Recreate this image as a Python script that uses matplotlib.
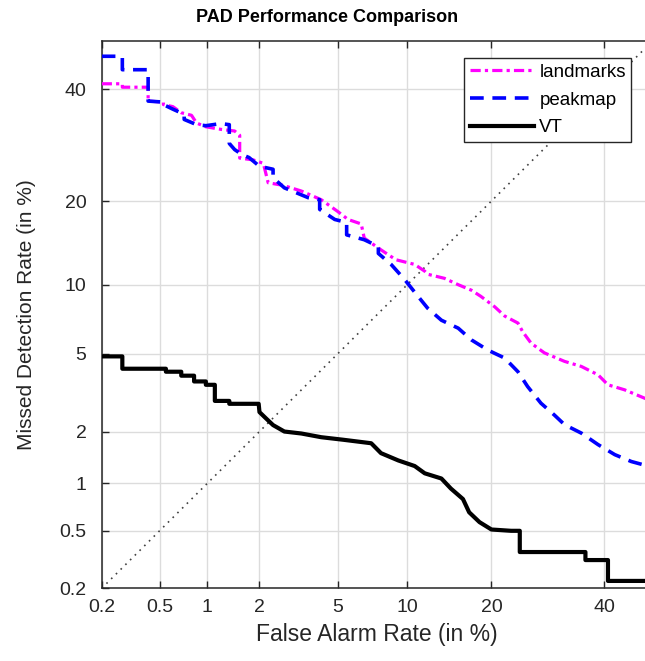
import math
import numpy as np
import matplotlib
matplotlib.use("Agg")
import matplotlib.pyplot as plt

# ---------------- data (percent) ----------------
ticks = [0.2, 0.5, 1, 2, 5, 10, 20, 40]
tick_labels = ["0.2", "0.5", "1", "2", "5", "10", "20", "40"]
lim = [0.2, 50]

# curve vertices (false alarm %, missed detection %)
land_far = [0.2, 0.28, 0.28, 0.42, 0.42, 0.53, 0.53, 0.61, 0.69, 0.80, 0.86, 0.98, 1.21, 1.45,
            1.55, 1.55, 1.84, 2.1, 2.23, 2.67, 3.33, 4.17, 5.0, 5.58, 6.4, 6.6, 7.8, 9.0, 10.7,
            11.7, 12.0, 13.85, 15.5, 17.2, 18.5, 20.5, 22.0, 24.1, 24.9, 26.3, 28.6, 32.3,
            35.5, 38.8, 40.8, 44.2, 48.3, 50]
land_miss = [41.1, 41.1, 40.4, 40.4, 37.6, 37.4, 36.9, 36.5, 35.3, 34.8, 33.3, 32.6, 32.1, 31.8,
             31.0, 26.9, 26.6, 26.0, 22.8, 22.4, 21.5, 20.2, 18.5, 17.4, 16.8, 15.0, 13.6, 12.5,
             12.0, 11.3, 11.0, 10.6, 10.0, 9.5, 8.96, 8.1, 7.4, 6.9, 6.3, 5.6, 5.05, 4.6, 4.35,
             3.96, 3.53, 3.33, 3.02, 2.9]

peak_far = [0.2, 0.28, 0.28, 0.42, 0.42, 0.53, 0.53, 0.61, 0.72, 0.72, 0.86, 0.98, 1.2, 1.35,
            1.35, 1.45, 1.6, 1.75, 2.0, 2.37, 2.37, 2.72, 3.6, 4.1, 4.1, 4.84, 5.5, 5.5, 6.6,
            7.6, 7.6, 8.6, 9.75, 10.9, 12.0, 13.5, 15.5, 17.2, 19.5, 22.0, 24.1, 25.7, 28.0,
            30.4, 32.3, 35.5, 38.8, 42.2, 45.6, 49.5, 50]
peak_miss = [46.8, 46.8, 44.0, 44.0, 37.6, 37.4, 36.9, 36.0, 35.0, 34.0, 33.0, 32.8, 33.2, 33.0,
             29.5, 28.4, 27.5, 27.0, 25.5, 25.0, 23.6, 22.0, 20.5, 20.2, 18.8, 17.4, 17.0,
             15.4, 14.8, 14.0, 13.2, 12.0, 10.5, 9.1, 8.0, 7.1, 6.55, 5.8, 5.2, 4.77, 4.1, 3.46,
             2.84, 2.46, 2.18, 1.96, 1.69, 1.48, 1.35, 1.26, 1.26]

vt_far = [0.2, 0.28, 0.28, 0.55, 0.55, 0.69, 0.69, 0.83, 0.83, 0.98, 0.98, 1.11, 1.11, 1.35,
          1.35, 1.98, 2.0, 2.18, 2.37, 2.72, 3.33, 4.17, 5.3, 7.08, 7.8, 9.2, 10.7, 11.7, 13.5,
          14.6, 16.1, 16.9, 18.3, 20.0, 23.0, 24.4, 24.4, 36.3, 36.3, 40.8, 40.8, 50]
vt_miss = [4.86, 4.86, 4.24, 4.24, 4.1, 4.1, 3.92, 3.92, 3.67, 3.67, 3.53, 3.53, 2.92, 2.92,
           2.82, 2.82, 2.55, 2.35, 2.17, 2.0, 1.95, 1.86, 1.8, 1.72, 1.51, 1.37, 1.27, 1.15,
           1.07, 0.93, 0.8, 0.66, 0.57, 0.51, 0.5, 0.5, 0.36, 0.36, 0.317, 0.317, 0.226, 0.226]

diag = [0.2, 50]

# ---------------- probit (normal deviate) scale ----------------
_a = [-3.969683028665376e+01, 2.209460984245205e+02, -2.759285104469687e+02,
      1.383577518672690e+02, -3.066479806614716e+01, 2.506628277459239e+00]
_b = [-5.447609879822406e+01, 1.615858368580409e+02, -1.556989798598866e+02,
      6.680131188771972e+01, -1.328068155288572e+01]
_c = [-7.784894002430293e-03, -3.223964580411365e-01, -2.400758277161838e+00,
      -2.549671010229583e+00, 4.374664141464968e+00, 2.938163982698783e+00]
_d = [7.784695709041462e-03, 3.224671290700398e-01, 2.445134137142996e+00,
      3.754408661907416e+00]


def _ppf(p):
    p = np.clip(np.asarray(p, dtype=float), 1e-12, 1 - 1e-12)
    out = np.empty_like(p)
    plow, phigh = 0.02425, 1 - 0.02425
    lo = p < plow
    hi = p > phigh
    mid = ~(lo | hi)
    if np.any(lo):
        q = np.sqrt(-2 * np.log(p[lo]))
        out[lo] = (((((_c[0]*q+_c[1])*q+_c[2])*q+_c[3])*q+_c[4])*q+_c[5]) / \
                  ((((_d[0]*q+_d[1])*q+_d[2])*q+_d[3])*q+1)
    if np.any(hi):
        q = np.sqrt(-2 * np.log(1 - p[hi]))
        out[hi] = -(((((_c[0]*q+_c[1])*q+_c[2])*q+_c[3])*q+_c[4])*q+_c[5]) / \
                   ((((_d[0]*q+_d[1])*q+_d[2])*q+_d[3])*q+1)
    if np.any(mid):
        q = p[mid] - 0.5
        r = q * q
        out[mid] = (((((_a[0]*r+_a[1])*r+_a[2])*r+_a[3])*r+_a[4])*r+_a[5])*q / \
                   (((((_b[0]*r+_b[1])*r+_b[2])*r+_b[3])*r+_b[4])*r+1)
    return out


_erfc = np.vectorize(math.erfc, otypes=[float])


def fwd(x):
    return _ppf(np.asarray(x, dtype=float) / 100.0)


def inv(z):
    return 100.0 * 0.5 * _erfc(-np.asarray(z, dtype=float) / math.sqrt(2))


# ---------------- figure ----------------
FONT = ["Liberation Sans", "DejaVu Sans"]
plt.rcParams['font.family'] = FONT
axcol = "#262626"

fig = plt.figure(figsize=(6.45, 6.61), dpi=100)
ax = fig.add_axes([101.7 / 645, 72.7 / 661, 550.8 / 645, 547.3 / 661])
ax.set_xscale('function', functions=(fwd, inv))
ax.set_yscale('function', functions=(fwd, inv))
ax.set_xlim(lim)
ax.set_ylim(lim)

ax.grid(True, color="#dcdcdc", linewidth=1.0, zorder=0)
ax.set_axisbelow(True)

ax.plot(diag, diag, color="#404040", linewidth=1.2, dashes=(1, 3), zorder=1)
ln1, = ax.plot(land_far, land_miss, color="#ff00ff", linewidth=2.3,
               dashes=(3.2, 1.3, 1.0, 1.3), label="landmarks", zorder=3)
ln2, = ax.plot(peak_far, peak_miss, color="#0000ff", linewidth=2.6,
               dashes=(3.8, 2.4), label="peakmap", zorder=3)
ln3, = ax.plot(vt_far, vt_miss, color="black", linewidth=3.0, label="VT", zorder=4)

ax.set_xticks(ticks)
ax.set_xticklabels(tick_labels)
ax.set_yticks(ticks)
ax.set_yticklabels(tick_labels)
ax.minorticks_off()
ax.tick_params(axis='both', which='major', direction='in', length=5, width=1.0,
               colors=axcol, labelsize=14, top=True, right=True)
ax.tick_params(axis='x', pad=8)
ax.tick_params(axis='y', pad=11)
for sp in ax.spines.values():
    sp.set_color(axcol)
    sp.set_linewidth(1.1)

ax.set_xlabel("False Alarm Rate (in %)", fontsize=16.5, color=axcol, labelpad=5)
ax.set_ylabel("Missed Detection Rate (in %)", fontsize=15, color=axcol, labelpad=17)
fig.text(327 / 645, 1 - 18 / 661, "PAD Performance Comparison", ha='center', va='center',
         fontsize=13, fontweight='bold', color="black")

leg = ax.legend(handles=[ln1, ln2, ln3], loc='upper left',
                bbox_to_anchor=(464.3 / 645, 1 - 58.3 / 661), bbox_transform=fig.transFigure,
                fontsize=13.5, handlelength=3.4, handletextpad=0.3, labelspacing=0.56,
                borderpad=0.3, borderaxespad=0, fancybox=False, framealpha=1,
                edgecolor="#262626")
leg.get_frame().set_linewidth(1.0)

fig.savefig("out.png", dpi=100)
